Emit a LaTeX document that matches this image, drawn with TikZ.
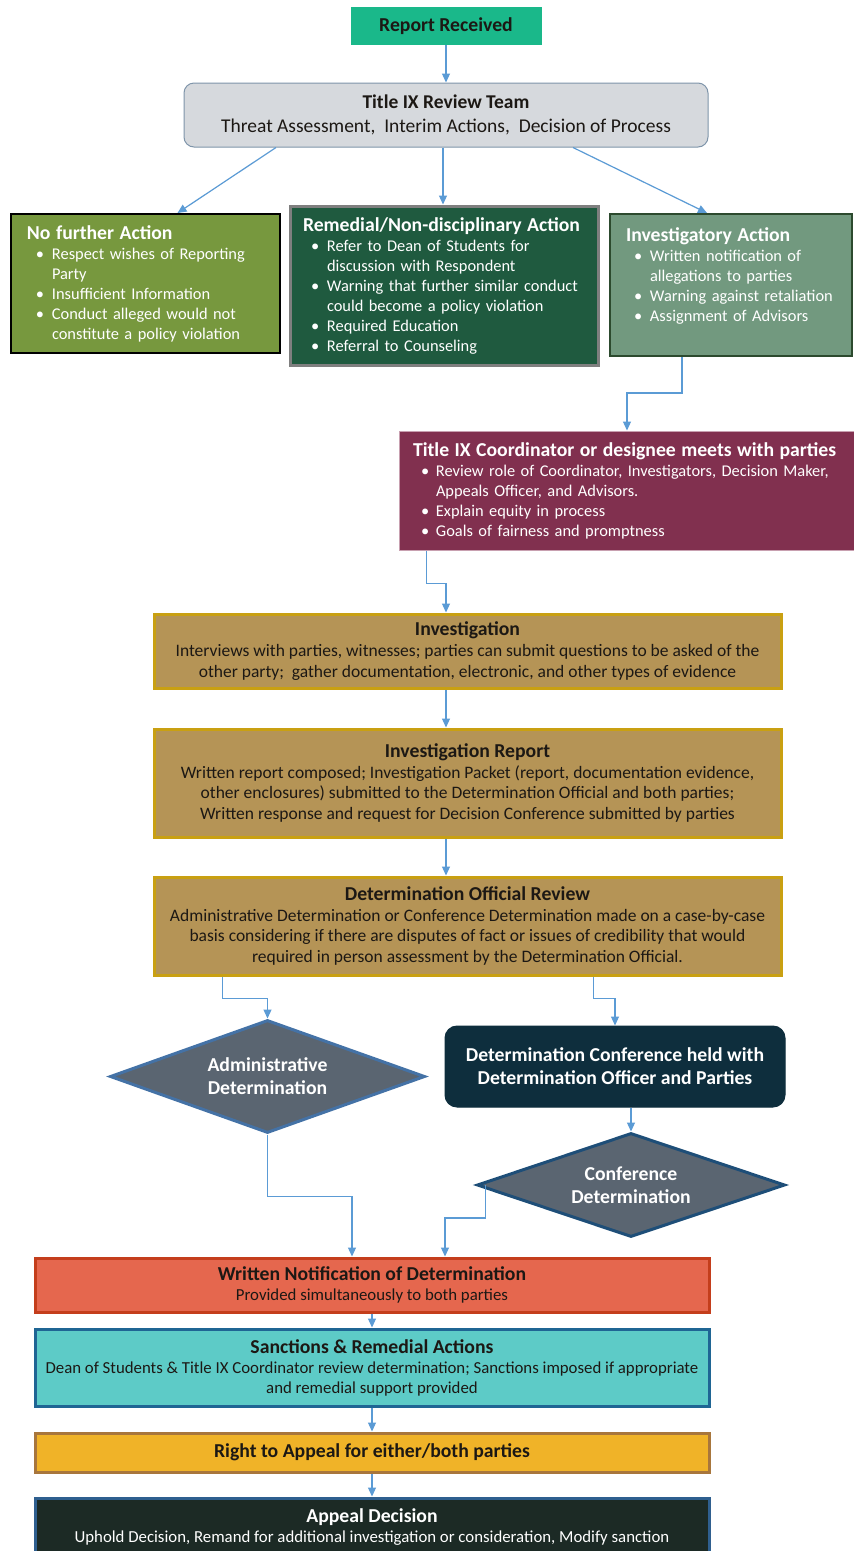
\documentclass[tikz,border=0pt]{standalone}
\usepackage{fontspec}
\setmainfont{Carlito}
\usetikzlibrary{arrows.meta,shapes.geometric,calc}
\definecolor{cRR}{RGB}{26,184,138}
\definecolor{cRTf}{RGB}{214,217,221}
\definecolor{cRTd}{RGB}{127,149,170}
\definecolor{cNFA}{RGB}{119,152,62}
\definecolor{cREM}{RGB}{31,90,63}
\definecolor{cREMd}{RGB}{127,127,127}
\definecolor{cINV}{RGB}{114,153,127}
\definecolor{cINVd}{RGB}{44,74,46}
\definecolor{cCO}{RGB}{129,48,79}
\definecolor{cCOd}{RGB}{200,160,176}
\definecolor{cTan}{RGB}{181,148,86}
\definecolor{cTanD}{RGB}{201,160,18}
\definecolor{cDark}{RGB}{28,24,20}
\definecolor{cCB}{RGB}{14,46,61}
\definecolor{cDia}{RGB}{90,101,113}
\definecolor{cDiaD}{RGB}{30,78,120}
\definecolor{cDiaL}{RGB}{68,114,166}
\definecolor{cWN}{RGB}{229,103,78}
\definecolor{cWND}{RGB}{196,62,28}
\definecolor{cSR}{RGB}{93,203,199}
\definecolor{cSRD}{RGB}{31,101,148}
\definecolor{cRA}{RGB}{240,179,40}
\definecolor{cRAD}{RGB}{168,118,60}
\definecolor{cAD}{RGB}{28,42,37}
\definecolor{cADD}{RGB}{47,95,143}
\definecolor{arrowc}{RGB}{91,155,213}
\newcommand{\tit}[1]{{\fontsize{19.7}{22}\selectfont\bfseries #1}}
\newlength{\bitind}\newlength{\bitoff}
\newcommand{\bit}[1]{\par\hangindent=\bitind\hangafter=1\noindent\makebox[\bitind][l]{\hspace{\bitoff}\textbullet}#1\par}
\begin{document}
\begin{tikzpicture}[x=1pt,y=-1pt,
  box/.style={rectangle, inner sep=0pt, font=\fontsize{16.4}{20}\selectfont},
  tanbox/.style={box, fill=cTan, draw=cTanD, line width=3pt, minimum width=627pt, align=center, text=cDark, font=\fontsize{17.5}{20.6}\selectfont},
  widebox/.style={box, minimum width=674pt, line width=3pt, align=center, font=\fontsize{16.8}{20}\selectfont},
  dia/.style={diamond, aspect=2.7, inner sep=0pt, fill=cDia, draw=cDiaD, line width=3pt, text=white, align=center, font=\fontsize{19.7}{23}\selectfont\bfseries},
  arr/.style={draw=arrowc, line width=1.2pt, -{Triangle[length=9pt,width=8pt]}}]
\useasboundingbox[fill=white] (0,0) rectangle (854,1551);

\node[box, fill=cRR, minimum width=191pt, minimum height=38pt, text=cDark] (rr) at (446,26) {\tit{Report Received}};

\node[box, rounded corners=10pt, fill=cRTf, draw=cRTd, line width=1pt, minimum width=524pt, minimum height=64pt, align=center, text=cDark, font=\fontsize{19.5}{24}\selectfont] (rt) at (446,115) {\textbf{Title IX Review Team}\\Threat Assessment,\ \ Interim Actions,\ \ Decision of Process};

\node[box, fill=cNFA, draw=black, line width=2pt, minimum width=269pt, minimum height=139pt, text width=237pt, align=left, text=white] (nfa) at (145.5,283.5) {\setlength{\bitind}{25pt}\setlength{\bitoff}{9pt}\tit{No further Action}\bit{\mbox{Respect wishes of Reporting}\newline Party}\bit{\mbox{Insufficient Information}}\bit{\mbox{Conduct alleged would not}\newline\mbox{constitute a policy violation}}};

\node[box, fill=cREM, draw=cREMd, line width=3pt, minimum width=308pt, minimum height=159pt, text width=282pt, align=left, text=white] (rem) at (444,285.5) {\setlength{\bitind}{24pt}\setlength{\bitoff}{8pt}\tit{Remedial/Non-disciplinary Action}\bit{\mbox{Refer to Dean of Students for}\newline\mbox{discussion with Respondent}}\bit{\mbox{Warning that further similar conduct}\newline\mbox{could become a policy violation}}\bit{\mbox{Required Education}}\bit{\mbox{Referral to Counseling}}};

\node[box, fill=cINV, draw=cINVd, line width=2pt, minimum width=242pt, minimum height=142pt, text width=210pt, align=left, text=white] (inv) at (731,285) {\setlength{\bitind}{24pt}\setlength{\bitoff}{8pt}\tit{Investigatory Action}\bit{\mbox{Written notification of}\newline\mbox{allegations to parties}}\bit{\mbox{Warning against retaliation}}\bit{\mbox{Assignment of Advisors}}\leavevmode\rule{0pt}{1pt}};

\node[box, fill=cCO, draw=cCOd, line width=1pt, minimum width=456pt, minimum height=119pt, text width=428pt, align=left, text=white] (coord) at (627,490.5) {\setlength{\bitind}{23pt}\setlength{\bitoff}{8pt}\tit{Title IX Coordinator or designee meets with parties}\bit{\mbox{Review role of Coordinator, Investigators, Decision Maker,}\newline\mbox{Appeals Officer, and Advisors.}}\bit{\mbox{Explain equity in process}}\bit{\mbox{Goals of fairness and promptness}}};

\node[tanbox, minimum height=74pt] (invg) at (467.5,651) {\tit{Investigation}\\Interviews with parties, witnesses; parties can submit questions to be asked of the\\other party;\ \ gather documentation, electronic, and other types of evidence};

\node[tanbox, minimum height=108pt] (irep) at (467.5,783) {\tit{Investigation Report}\\Written report composed; Investigation Packet (report, documentation evidence,\\other enclosures) submitted to the Determination Official and both parties;\\Written response and request for Decision Conference submitted by parties};

\node[tanbox, minimum height=98pt] (dor) at (467.5,926) {\tit{Determination Official Review}\\Administrative Determination or Conference Determination made on a case-by-case\\basis considering if there are disputes of fact or issues of credibility that would\\required in person assessment by the Determination Official.};

\node[dia, draw=cDiaL, minimum width=315pt, minimum height=113pt] (adm) at (267.5,1076.5) {Administrative\\Determination};

\node[box, rounded corners=12pt, fill=cCB, draw=cCB, line width=1pt, minimum width=340pt, minimum height=81pt, align=center, text=white, font=\fontsize{19.7}{23}\selectfont\bfseries] (cbox) at (615,1066.5) {Determination Conference held with\\Determination Officer and Parties};

\node[dia, minimum width=308pt, minimum height=104pt] (cdia) at (631,1185) {Conference\\Determination};

\node[widebox, fill=cWN, draw=cWND, minimum height=54pt, text=cDark] (wn) at (372,1285) {\tit{Written Notification of Determination}\\Provided simultaneously to both parties};

\node[widebox, fill=cSR, draw=cSRD, minimum height=77pt, text=cDark] (sr) at (372,1367.5) {\tit{Sanctions \& Remedial Actions}\\Dean of Students \& Title IX Coordinator review determination; Sanctions imposed if appropriate\\and remedial support provided};

\node[widebox, fill=cRA, draw=cRAD, minimum height=39pt, text=cDark] (ra) at (372,1452.5) {\tit{Right to Appeal for either/both parties}};

\node[widebox, fill=cAD, draw=cADD, minimum height=58pt, text=white] (ad) at (372,1527) {\tit{Appeal Decision}\\Uphold Decision, Remand for additional investigation or consideration, Modify sanction};

% connectors
\draw[arr] (rr) -- (rt);
\draw[arr] ([xshift=-170pt]rt.south) -- ([xshift=32pt]nfa.north);
\draw[arr] ([xshift=-3pt]rt.south) -- ([xshift=-1pt]rem.north);
\draw[arr] ([xshift=127pt]rt.south) -- ([xshift=-24pt]inv.north);
\draw[arr] ([xshift=-49pt]inv.south) -- ++(0,36) -| (coord.north);
\draw[arr] ([xshift=28pt]coord.south west) -- ++(0,33) -| ([xshift=-21.5pt]invg.north);
\draw[arr] ([xshift=-21.5pt]invg.south) -- ([xshift=-21.5pt]irep.north);
\draw[arr] ([xshift=-21.5pt]irep.south) -- ([xshift=-21.5pt]dor.north);
\draw[arr] ([xshift=70pt]dor.south west) -- ++(0,22) -| (adm.north);
\draw[arr] ([xshift=441pt]dor.south west) -- ++(0,22) -| (cbox.north);
\draw[arr] ([xshift=16pt]cbox.south) -- (cdia.north);
\draw[arr] (adm.south) -- ++(0,62) -| ([xshift=-20pt]wn.north);
\draw[arr] ([xshift=10pt]cdia.west) -- ++(0,33) -| ([xshift=73pt]wn.north);
\draw[arr] (wn) -- (sr);
\draw[arr] (sr) -- (ra);
\draw[arr] (ra) -- (ad);
\end{tikzpicture}
\end{document}
